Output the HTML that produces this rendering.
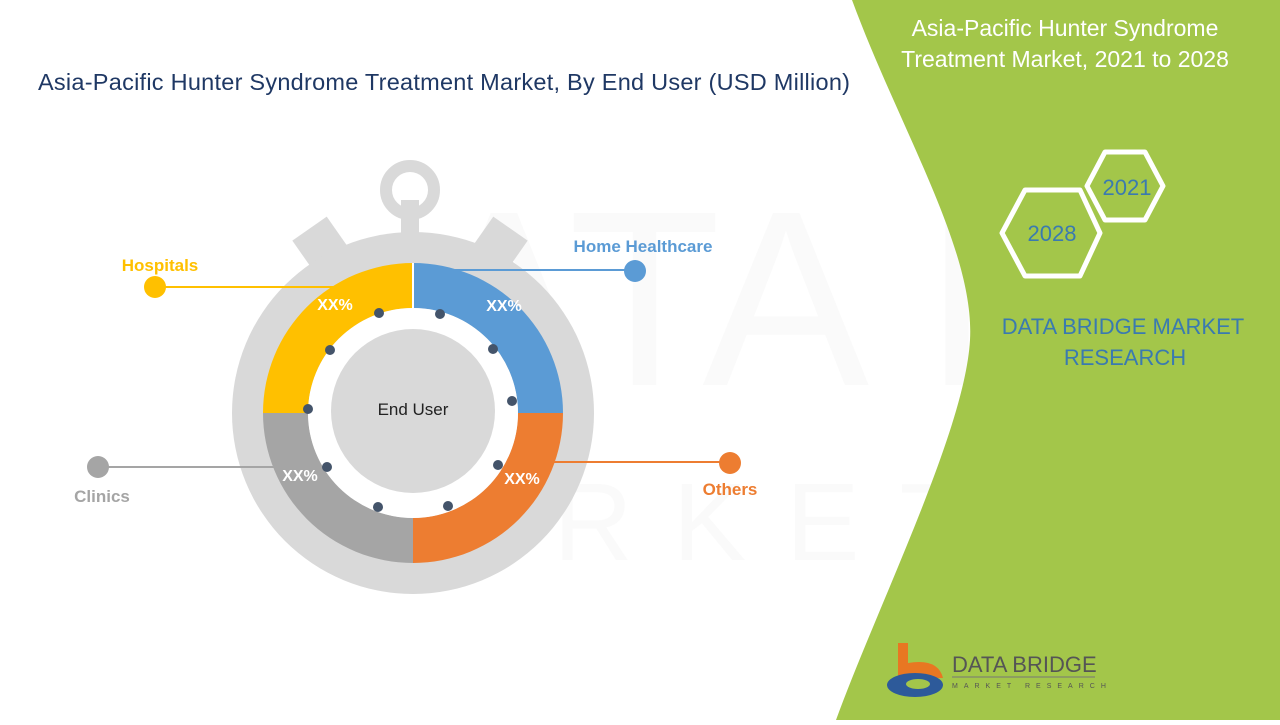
<!DOCTYPE html>
<html><head><style>
body{margin:0;width:1280px;height:720px;overflow:hidden;background:#fff;font-family:"Liberation Sans",sans-serif}
</style></head><body>
<svg width="1280" height="720" viewBox="0 0 1280 720" xmlns="http://www.w3.org/2000/svg">
<rect width="1280" height="720" fill="#fff"/>
<g opacity="0.035" fill="#888">
<text x="420" y="385" font-size="250" font-family="Liberation Sans">ATA BRIDGE</text>
<text x="440" y="560" font-size="110" letter-spacing="40">ARKET RESEARCH</text>
</g>
<path d="M852,0 L1280,0 L1280,720 L836,720 C880,600 965,430 970,340 C975,250 900,130 852,0 Z" fill="#a3c64a"/>
<text x="1065" y="36" font-size="23" fill="#fff" text-anchor="middle">Asia-Pacific Hunter Syndrome</text>
<text x="1065" y="67" font-size="23" fill="#fff" text-anchor="middle">Treatment Market, 2021 to 2028</text>
<polygon points="1105,152 1145,152 1163,186 1145,220 1105,220 1087,186" fill="none" stroke="#fff" stroke-width="5" stroke-linejoin="round"/>
<polygon points="1025,190 1080,190 1100,233 1080,276 1025,276 1002,233" fill="none" stroke="#fff" stroke-width="5" stroke-linejoin="round"/>
<text x="1127" y="195" font-size="22" fill="#3a7ab0" text-anchor="middle">2021</text>
<text x="1052" y="241" font-size="22" fill="#3a7ab0" text-anchor="middle">2028</text>
<text x="1123" y="334" font-size="22" fill="#3a7ab0" text-anchor="middle">DATA BRIDGE MARKET</text>
<text x="1125" y="365" font-size="22" fill="#3a7ab0" text-anchor="middle">RESEARCH</text>
<path d="M898,643 h10 v20 q30,-5 35,15 h-45 z" fill="#e87722"/>
<ellipse cx="915" cy="685" rx="28" ry="12" fill="#2d5a9a"/>
<ellipse cx="918" cy="684" rx="12" ry="5" fill="#a3c64a"/>
<text x="952" y="672" font-size="22" fill="#555">DATA BRIDGE</text>
<line x1="952" y1="677" x2="1095" y2="677" stroke="#777" stroke-width="1"/>
<text x="952" y="688" font-size="7" fill="#555" letter-spacing="6">MARKET RESEARCH</text>
<text x="38" y="90" font-size="23.5" fill="#1f3864" textLength="812">Asia-Pacific Hunter Syndrome Treatment Market, By End User (USD Million)</text>
<g fill="#d9d9d9">
<circle cx="410" cy="190" r="24" fill="none" stroke="#d9d9d9" stroke-width="12"/>
<rect x="401" y="200" width="18" height="45"/>
<rect x="300" y="225" width="42" height="40" transform="rotate(-35 321 245)"/>
<rect x="478" y="225" width="42" height="40" transform="rotate(35 499 245)"/>
<circle cx="413" cy="413" r="181"/>
</g>
<path d="M413,263 A150,150 0 0 1 563,413 L518,413 A105,105 0 0 0 413,308 Z" fill="#5b9bd5"/>
<path d="M563,413 A150,150 0 0 1 413,563 L413,518 A105,105 0 0 0 518,413 Z" fill="#ed7d31"/>
<path d="M413,563 A150,150 0 0 1 263,413 L308,413 A105,105 0 0 0 413,518 Z" fill="#a5a5a5"/>
<path d="M263,413 A150,150 0 0 1 413,263 L413,308 A105,105 0 0 0 308,413 Z" fill="#ffc000"/>
<circle cx="413" cy="413" r="105" fill="#fff"/>
<circle cx="413" cy="411" r="82" fill="#d9d9d9"/>
<line x1="413" y1="263" x2="413" y2="308" stroke="#fff" stroke-width="2"/>
<text x="413" y="415" font-size="17" fill="#222" text-anchor="middle">End User</text>
<g fill="#44546a">
<circle cx="379" cy="313" r="5"/><circle cx="440" cy="314" r="5"/><circle cx="330" cy="350" r="5"/><circle cx="493" cy="349" r="5"/>
<circle cx="308" cy="409" r="5"/><circle cx="512" cy="401" r="5"/><circle cx="327" cy="467" r="5"/><circle cx="498" cy="465" r="5"/>
<circle cx="378" cy="507" r="5"/><circle cx="448" cy="506" r="5"/>
</g>
<g font-size="16" font-weight="bold" fill="#fff" text-anchor="middle">
<text x="335" y="310">XX%</text><text x="504" y="311">XX%</text>
<text x="300" y="481">XX%</text><text x="522" y="484">XX%</text>
</g>
<line x1="155" y1="287" x2="335" y2="287" stroke="#ffc000" stroke-width="2"/>
<circle cx="155" cy="287" r="11" fill="#ffc000"/>
<text x="160" y="271" font-size="17" font-weight="bold" fill="#ffc000" text-anchor="middle">Hospitals</text>
<line x1="455" y1="270" x2="635" y2="270" stroke="#5b9bd5" stroke-width="2"/>
<circle cx="635" cy="271" r="11" fill="#5b9bd5"/>
<text x="643" y="252" font-size="17" font-weight="bold" fill="#5b9bd5" text-anchor="middle">Home Healthcare</text>
<line x1="98" y1="467" x2="275" y2="467" stroke="#a5a5a5" stroke-width="2"/>
<circle cx="98" cy="467" r="11" fill="#a5a5a5"/>
<text x="102" y="502" font-size="17" font-weight="bold" fill="#a5a5a5" text-anchor="middle">Clinics</text>
<line x1="550" y1="462" x2="730" y2="462" stroke="#ed7d31" stroke-width="2"/>
<circle cx="730" cy="463" r="11" fill="#ed7d31"/>
<text x="730" y="495" font-size="17" font-weight="bold" fill="#ed7d31" text-anchor="middle">Others</text>
</svg>
</body></html>
